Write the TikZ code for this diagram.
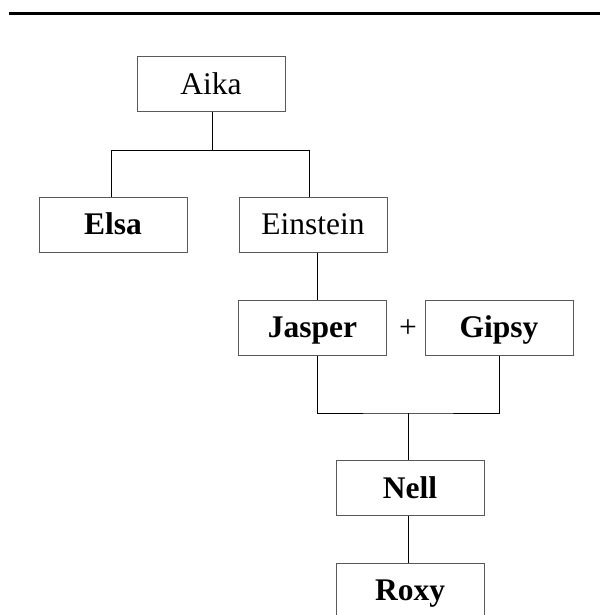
\documentclass[tikz,border=0pt]{standalone}
\usepackage{fontspec}
\setmainfont{Liberation Serif}
\usetikzlibrary{calc}
\tikzset{
  box/.style={draw=black!65, line width=1pt, minimum width=148pt, minimum height=55pt,
    inner sep=0pt, text height=20.5pt, text depth=0pt, font=\fontsize{31.5}{36}\selectfont},
  bbox/.style={box, font=\fontsize{31.5}{36}\selectfont\bfseries},
  link/.style={draw=black, line width=0.9pt},
}
\begin{document}
\begin{tikzpicture}[x=1pt,y=-1pt]
\useasboundingbox (0,0) rectangle (600,615);
\draw[line width=3.5pt] (9,13.5) -- (600,13.5);
\node[box]  (aika)     at (211,84.5) {Aika};
\node[bbox] (elsa)     at (113,224.5) {Elsa};
\node[box]  (einstein) at (313,224.5) {Einstein};
\node[bbox] (jasper)   at (312.5,327.5) {Jasper};
\node[bbox] (gipsy)    at (499,327.5) {Gipsy};
\node[font=\fontsize{31.5}{36}\selectfont, inner sep=0pt] (plus) at (408,329) {+};
\node[bbox] (nell)     at (410,488) {Nell};
\node[bbox] (roxy)     at (410,590.5) {Roxy};
\coordinate (j1) at (212,150.5);
\coordinate (j2) at (408,413);
\path[link] ($(aika.south)+(1,0)$) -- (j1);
\path[link] ($(elsa.north)+(-2,0)$) |- (j1) -| ($(einstein.north)+(-4,0)$);
\path[link] ($(einstein.south)+(4,0)$) -- ($(jasper.north)+(4.5,0)$);
\path[link] ($(jasper.south)+(4.5,0)$) |- (j2) -| (gipsy.south);
\path[link] (j2) -- (j2 |- nell.north);
\path[link] ($(nell.south)+(-2,0)$) -- ($(roxy.north)+(-2,0)$);
\end{tikzpicture}
\end{document}
